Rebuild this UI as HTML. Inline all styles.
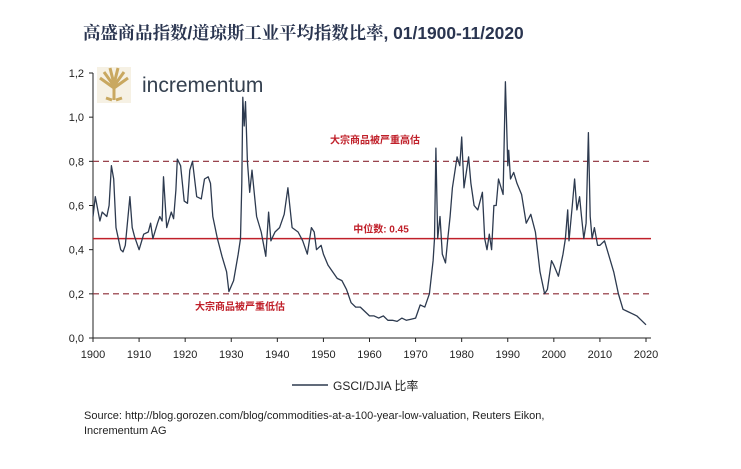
<!DOCTYPE html>
<html><head><meta charset="utf-8">
<style>
body{margin:0;background:#fff;width:741px;height:464px;overflow:hidden;font-family:"Liberation Sans","Noto Sans CJK SC",sans-serif;}
</style></head>
<body>
<svg width="741" height="464" xmlns="http://www.w3.org/2000/svg">
<text x="83" y="39" font-size="17.4" font-weight="bold" fill="#2a3550" font-family="'Liberation Sans','Noto Serif CJK SC',serif">高盛商品指数/道琼斯工业平均指数比率, 01/1900-11/2020</text>
<g>
<rect x="97" y="67" width="34" height="36" fill="#f6f1e4"/>
<path d="M114 100 L114 84 M114 86 L104 72 M114 86 L124 72 M114 88 L100 78 M114 88 L128 78 M114 84 L110 68 M114 84 L118 68 M112 100 L106 98 M116 100 L122 98" stroke="#c9a860" stroke-width="3" fill="none"/>
<text x="142" y="92" font-size="21" fill="#34404f">incrementum</text>
</g>
<g id="axes"></g>
<g id="plot"></g>
<g>
<line x1="292" y1="385" x2="328" y2="385" stroke="#2d3a4f" stroke-width="1.5"/>
<text x="333" y="390" font-size="12" fill="#222">GSCI/DJIA 比率</text>
</g>
<text x="84" y="419" font-size="11" fill="#222">Source: http://blog.gorozen.com/blog/commodities-at-a-100-year-low-valuation, Reuters Eikon,</text>
<text x="84" y="434" font-size="11" fill="#222">Incrementum AG</text>
</svg>
<script>
const years=[1900,1900.5,1901.5,1902,1903,1903.5,1904,1904.5,1905,1906,1906.5,1907,1908,1908.5,1909,1910,1911,1912,1912.5,1913,1914,1914.5,1915,1915.3,1916,1917,1917.5,1918,1918.3,1919,1919.8,1920.5,1921,1921.6,1922.5,1923.5,1924.2,1925,1925.5,1926,1927,1928,1929,1929.5,1930.5,1931.5,1932,1932.3,1932.5,1932.8,1933.1,1933.5,1934,1934.5,1935.5,1936.5,1937.5,1938.1,1938.6,1939.5,1940.5,1941.5,1942.3,1943.2,1944.5,1945.5,1946.5,1947.4,1948,1948.5,1949.5,1950,1951,1952,1953,1954,1955,1956,1957,1958,1959,1960,1961,1962,1963,1964,1965,1966,1967,1968,1969,1970,1971,1972,1973,1973.8,1974.1,1974.4,1974.8,1975.3,1975.8,1976.5,1977,1977.5,1978,1979,1979.6,1980,1980.5,1981,1981.5,1982,1982.7,1983.5,1984.5,1985,1985.5,1986,1986.5,1987,1987.5,1988,1989,1989.5,1990,1990.2,1990.6,1991.3,1992,1993,1994,1995,1996,1997,1998,1998.6,1999.5,2000,2001,2002,2002.5,2003,2003.3,2004,2004.5,2005,2005.6,2006,2006.5,2007,2007.5,2007.9,2008.3,2008.8,2009.5,2010,2011,2012,2013,2014,2015,2016,2017,2018,2019,2020,2020.6];
const ratio=[0.55,0.64,0.53,0.57,0.55,0.6,0.78,0.72,0.5,0.4,0.39,0.42,0.64,0.5,0.46,0.4,0.47,0.48,0.52,0.45,0.52,0.55,0.53,0.73,0.5,0.57,0.54,0.67,0.81,0.78,0.62,0.61,0.76,0.8,0.64,0.63,0.72,0.73,0.7,0.55,0.45,0.37,0.3,0.21,0.26,0.38,0.45,0.7,1.09,0.96,1.07,0.8,0.66,0.76,0.55,0.48,0.37,0.57,0.44,0.48,0.5,0.56,0.68,0.5,0.48,0.44,0.38,0.5,0.48,0.4,0.42,0.38,0.33,0.3,0.27,0.26,0.22,0.16,0.14,0.14,0.12,0.1,0.1,0.09,0.1,0.08,0.08,0.075,0.09,0.08,0.085,0.09,0.15,0.14,0.2,0.35,0.45,0.86,0.45,0.55,0.38,0.34,0.45,0.55,0.68,0.82,0.78,0.91,0.68,0.75,0.82,0.7,0.6,0.58,0.66,0.45,0.4,0.47,0.4,0.6,0.6,0.72,0.65,1.16,0.78,0.85,0.72,0.75,0.7,0.65,0.52,0.56,0.48,0.3,0.2,0.22,0.35,0.33,0.28,0.38,0.45,0.58,0.44,0.6,0.72,0.58,0.64,0.55,0.45,0.52,0.93,0.55,0.45,0.5,0.42,0.42,0.44,0.37,0.3,0.2,0.13,0.12,0.11,0.1,0.08,0.06];
const yTicks=[0,0.2,0.4,0.6,0.8,1.0,1.2];
const yTickLabels=["0,0","0,2","0,4","0,6","0,8","1,0","1,2"];
const xTicks=[1900,1910,1920,1930,1940,1950,1960,1970,1980,1990,2000,2010,2020];
const refLevels=[0.8,0.45,0.2];
const NS="http://www.w3.org/2000/svg";
const X=y=>93+(y-1900)*(646-93)/120;
const Y=v=>338-v*(338-73)/1.2;
function mk(t,a,p){const e=document.createElementNS(NS,t);for(const k in a)e.setAttribute(k,a[k]);p.appendChild(e);return e;}
const ax=document.getElementById('axes'),pl=document.getElementById('plot');
let e=mk('line',{x1:93,y1:Y(1.2),x2:93,y2:Y(0),stroke:'#222','stroke-width':1},ax);


e=mk('line',{x1:93,y1:Y(0),x2:651,y2:Y(0),stroke:'#222','stroke-width':1},ax);


yTicks.forEach((v,i)=>{
 mk('line',{x1:89,y1:Y(v),x2:93,y2:Y(v),stroke:'#222'},ax);
 const t=mk('text',{x:84,y:Y(v)+4,'font-size':11,'text-anchor':'end',fill:'#222'},ax);t.textContent=yTickLabels[i];
 
 
});
xTicks.forEach(v=>{
 mk('line',{x1:X(v),y1:Y(0),x2:X(v),y2:Y(0)+4,stroke:'#222'},ax);
 const t=mk('text',{x:X(v),y:358,'font-size':11,'text-anchor':'middle',fill:'#222'},ax);t.textContent=v;
 
 
});
refLevels.forEach((v,i)=>{
 const l=mk('line',{x1:93,y1:Y(v),x2:651,y2:Y(v),stroke:i==1?'#c0202a':'#8b2a35','stroke-width':i==1?1.5:1.2,'stroke-dasharray':i==1?'':'6,4'},pl);
 
 
});
let d='';years.forEach((y,i)=>{d+=(i?'L':'M')+X(y).toFixed(1)+' '+Y(ratio[i]).toFixed(1);});
const p=mk('path',{d:d,fill:'none',stroke:'#2d3a4f','stroke-width':1.3,'stroke-linejoin':'round'},pl);


const ann=[[375,Y(0.8)-18,'大宗商品被严重高估','overvalued-label'],[381,Y(0.45)-6,'中位数: 0.45','median-label'],[240,Y(0.2)+16,'大宗商品被严重低估','undervalued-label']];
ann.forEach(a=>{const t=mk('text',{x:a[0],y:a[1],'font-size':10,'font-weight':'bold','text-anchor':'middle',fill:'#c0202a'},pl);t.textContent=a[2];
 
 });
</script>
</body></html>
